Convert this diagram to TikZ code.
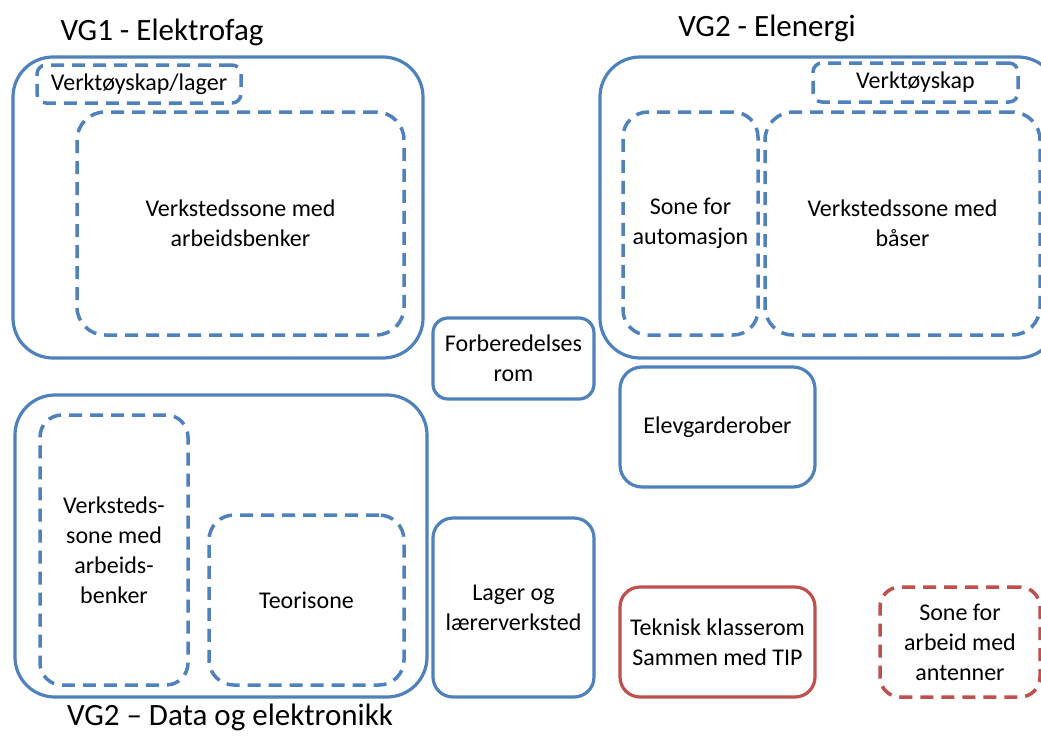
\documentclass[tikz,border=0pt]{standalone}
\usepackage{fontspec}
\setmainfont{Carlito}
\definecolor{ofblue}{HTML}{4F81BD}
\definecolor{ofred}{HTML}{C0504D}
\tikzset{
  room/.style={draw=ofblue, line width=3.2pt, rounded corners=#1, inner sep=0pt, align=center,
    font=\fontsize{24}{30}\selectfont},
  room/.default=20pt,
  zone/.style={room=#1, dash pattern=on 13pt off 8pt, line width=3.5pt},
  zone/.default=25pt,
  title/.style={font=\fontsize{31}{36}\selectfont, anchor=base, inner sep=0pt},
  redc/.style={draw=ofred}
}
\begin{document}
\begin{tikzpicture}[x=1pt,y=-1pt]
\clip (0,0) rectangle (1041,736);
\fill[white] (0,0) rectangle (1041,736);
% titles
\node[title] (t1) at (162,40) {VG1 - Elektrofag};
\node[title] (t2) at (767,36) {VG2 - Elenergi};
\node[title] (t3) at (230,725) {VG2 – Data og elektronikk};
% VG1
\node[room=40pt, minimum width=410pt, minimum height=301pt] (vg1) at (218,207.5) {};
\node[zone=9pt, minimum width=204pt, minimum height=38pt] (vg1skap) at (139,84) {Verktøyskap/lager};
\node[zone=28pt, minimum width=327pt, minimum height=223pt] (vg1verk) at (240.5,223.5) {Verkstedssone med\\arbeidsbenker};
% VG2 Elenergi
\node[room=40pt, minimum width=458pt, minimum height=301pt] (vg2e) at (829,207.5) {};
\node[zone=9pt, minimum width=205pt, minimum height=39pt] (vg2skap) at (915.5,82.5) {Verktøyskap};
\node[zone=25pt, minimum width=135pt, minimum height=223pt] (auto) at (690.5,223.5) {Sone for\\automasjon};
\node[zone=28pt, minimum width=275pt, minimum height=223pt] (baser) at (902.5,223.5) {Verkstedssone med\\båser};
% middle
\node[room=15pt, minimum width=161pt, minimum height=81pt] (forb) at (513.5,358.5) {Forberedelses\\rom};
\node[room=22pt, minimum width=195pt, minimum height=120pt] (elev) at (717.5,427) {Elevgarderober};
\node[room=20pt, minimum width=161pt, minimum height=179pt] (lager) at (513.5,607.5) {Lager og\\lærerverksted};
% VG2 Data
\node[room=40pt, minimum width=412pt, minimum height=302pt] (vg2d) at (221,546) {};
\node[zone=22pt, minimum width=148pt, minimum height=270pt] (vsone) at (114,550) {Verksteds-\\sone med\\arbeids-\\benker};
\node[zone=25pt, minimum width=195pt, minimum height=170pt] (teori) at (306.5,600) {Teorisone};
% red
\node[room=20pt, redc, minimum width=195pt, minimum height=110pt] (tek) at (717.5,642) {Teknisk klasserom\\Sammen med TIP};
\node[zone=20pt, redc, minimum width=160pt, minimum height=110pt] (ant) at (960,642) {Sone for\\arbeid med\\antenner};
\end{tikzpicture}
\end{document}
